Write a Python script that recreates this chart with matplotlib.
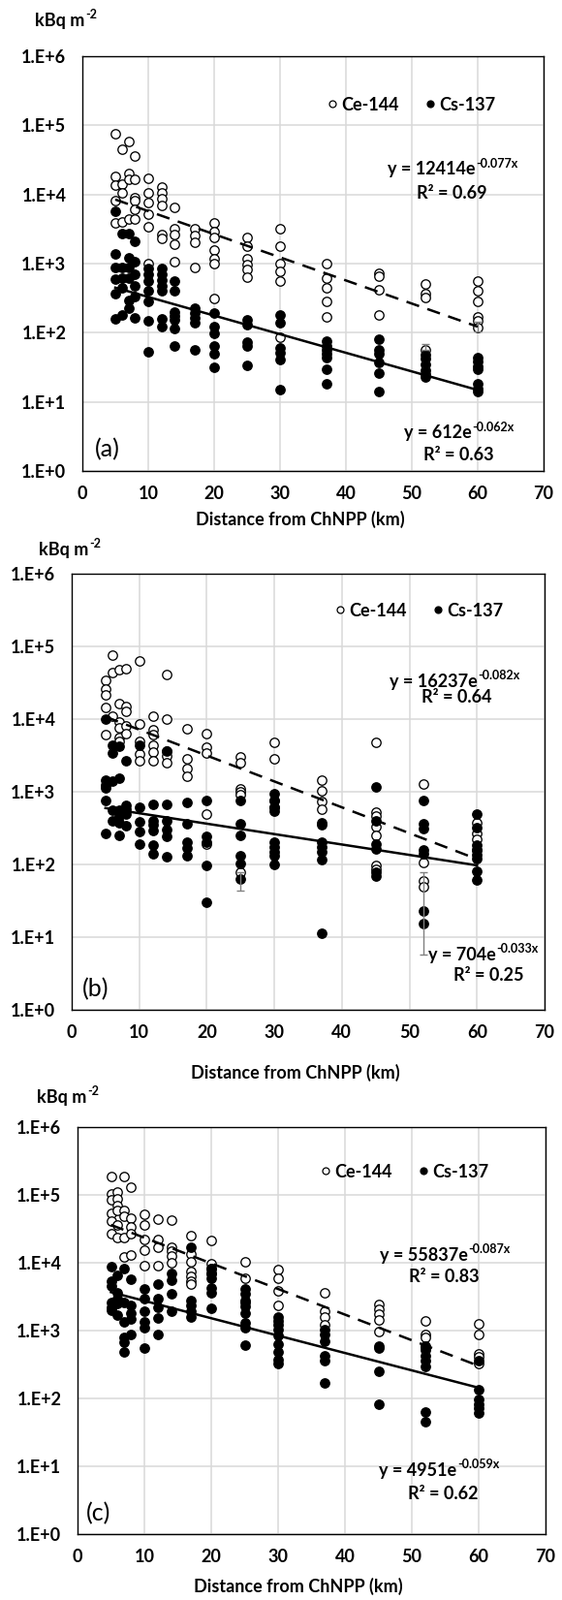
import matplotlib
matplotlib.use("Agg")
import matplotlib.pyplot as plt
from matplotlib.lines import Line2D
import numpy as np

# ---------------- data ----------------
DIST = [5, 6, 7, 8, 10, 12, 14, 17, 20, 25, 30, 37, 45, 52, 60]

A_CE = [[74800, 18500, 13700, 8070, 3880], [44700, 14100, 10500, 4000],
        [59000, 20000, 16600, 4400], [36000, 16600, 9000, 8100, 6100, 4400],
        [17100, 10400, 7700, 5250, 3380, 1000], [12900, 10500, 8700, 7000, 2660, 2300],
        [6600, 3150, 2600, 1920, 1050], [3200, 2580, 2040, 890],
        [3880, 2880, 2400, 1560, 1180, 1000, 316], [2400, 1790, 1170, 960, 820, 630],
        [3200, 1790, 1000, 770, 560, 87], [1000, 620, 450, 285, 172],
        [725, 650, 425, 182], [500, 365, 326, 57], [560, 405, 280, 172, 147, 120]]
A_CS = [[5630, 1390, 890, 590, 370, 157], [2700, 890, 620, 450, 180],
        [2700, 1230, 890, 620, 290, 230], [2070, 1070, 690, 480, 333, 165],
        [840, 700, 560, 400, 280, 147, 53], [850, 700, 580, 480, 400, 160, 124],
        [560, 400, 200, 175, 155, 115, 65], [225, 190, 165, 140, 57],
        [190, 124, 97, 65, 50, 32], [153, 131, 74, 65, 34],
        [180, 140, 60, 52, 41, 15], [75, 65, 56, 50, 43, 30, 18],
        [80, 56, 50, 37, 26, 14], [48, 42, 35, 29, 25, 23],
        [43, 38, 33, 30, 18, 15.5, 14]]

B_CE = [[34100, 25700, 21600, 14300, 6200], [75100, 43600, 10800],
        [47400, 16300, 9200, 7500, 5600, 5000], [49900, 15100, 12600, 8150, 6300],
        [62500, 8600, 5000, 3340, 2700], [11000, 7150, 6200, 4400, 3500, 2700],
        [40600, 10000, 3600, 3100, 2500], [7350, 2830, 2100, 1650],
        [6300, 4070, 3420, 500, 190], [3040, 2500, 1100, 1000, 910, 78],
        [4740, 2840, 770, 620], [1430, 1030, 725, 570],
        [4740, 525, 465, 330, 250, 98, 86], [1260, 107, 60, 49], [380, 270, 220, 160]]
B_CS = [[10000, 1430, 1230, 1120, 770, 265], [4300, 3400, 1390, 550, 400],
        [4170, 1520, 550, 465, 380, 250], [2700, 660, 570, 490, 340],
        [4400, 610, 390, 280, 190], [680, 400, 350, 290, 183, 140],
        [3600, 680, 400, 300, 245, 127], [710, 360, 200, 167, 131],
        [770, 240, 205, 97, 30], [760, 360, 250, 131, 103, 63],
        [950, 760, 620, 540, 205, 175, 150, 130, 100],
        [380, 350, 205, 175, 150, 117, 11.3], [1170, 400, 190, 162, 79, 69],
        [750, 360, 310, 160, 140, 23, 15.4], [495, 320, 185, 160, 135, 120, 81, 61]]

C_CE = [[186000, 102000, 85000, 53000, 41500, 27000],
        [112000, 87000, 70000, 59000, 36000, 23300],
        [186000, 59000, 49000, 23300, 12100], [131000, 45000, 34300, 26700, 12900],
        [52000, 36000, 21700, 15400, 9100], [43500, 21700, 16800, 9200],
        [42500, 17200, 15000, 12500, 10000], [25500, 13500, 10300, 7400, 6300, 5400, 4800],
        [21000, 9700, 8300, 7000], [10300, 6000, 2600], [8000, 6000, 3870, 2350],
        [3650, 1930, 1600, 1220], [2400, 2050, 1730, 1440, 980],
        [1390, 890, 785, 565], [1250, 890, 455, 410, 330]]
C_CS = [[8700, 5300, 4600, 2600, 2200, 2000], [6600, 3640, 2940, 2500, 1700],
        [8300, 2600, 1350, 790, 665, 490], [5640, 2350, 1780, 1500, 880],
        [4080, 3000, 1940, 1350, 1120, 555], [4900, 2950, 2220, 1520, 880],
        [7000, 5600, 3540, 1900], [16800, 2760, 2340, 1950, 1560],
        [8300, 7000, 6000, 4270, 3640, 2100],
        [4080, 3500, 2800, 2300, 1800, 1290, 1100, 615],
        [1600, 1400, 1220, 1020, 835, 630, 480, 370, 330],
        [1030, 870, 705, 430, 365, 170], [600, 550, 250, 83],
        [600, 510, 430, 365, 294, 63, 46], [365, 135, 98, 83, 71, 61]]

# trend lines (a, b, r2) for y = a*exp(b*x)
A_FIT_CE = (12414, -0.077, 0.69)
A_FIT_CS = (612, -0.062, 0.63)
B_FIT_CE = (16237, -0.082, 0.64)
B_FIT_CS = (704, -0.033, 0.25)
C_FIT_CE = (55837, -0.087, 0.83)
C_FIT_CS = (4951, -0.059, 0.62)
FIT_RANGE = (5, 60)

# error bars: (x, y, low, high)
A_ERR = [(60, 122, 105, 145), (52, 57, 57, 68)]
B_ERR = [(25, 78, 43, 78), (52, 78, 5.8, 78)]
C_ERR = []

YTICKS = [1, 10, 100, 1000, 10000, 100000, 1000000]
YTICK_LABELS = ["1.E+0", "1.E+1", "1.E+2", "1.E+3", "1.E+4", "1.E+5", "1.E+6"]
XTICKS = [0, 10, 20, 30, 40, 50, 60, 70]
LEGEND_LABELS = ["Ce-144", "Cs-137"]
PANEL_LABELS = ["(a)", "(b)", "(c)"]
XLABEL = "Distance from ChNPP (km)"
YLABEL_MAIN = "kBq m"
YLABEL_SUP = "-2"

# ---------------- style ----------------
plt.rcParams['font.family'] = ['Lato', 'DejaVu Sans']
plt.rcParams['font.weight'] = 'bold'

W, H = 580, 1651
fig = plt.figure(figsize=(W / 100, H / 100), dpi=100)
FS = 13
FS_SUP = 9

def fx(x):
    return x / W

def fy(y):
    return 1 - y / H

LAYOUT = [
    dict(box=(85, 58, 561, 486), ylab=(36, 21), xlab=(310, 536), leg=(0.535, 0.883),
         ce_eq=(56.2, 4.36), ce_r2=(56.0, 4.02), cs_eq=(57.1, 0.55), cs_r2=(57.1, 0.23),
         plab=(3.8, 0.32)),
    dict(box=(74, 592, 562, 1042), ylab=(40, 567), xlab=(305, 1107), leg=(0.561, 0.915),
         ce_eq=(56.7, 4.52), ce_r2=(57.0, 4.30), cs_eq=(60.9, 0.756), cs_r2=(61.7, 0.47),
         plab=(3.5, 0.29)),
    dict(box=(80, 1163, 563, 1583), ylab=(38, 1132), xlab=(308, 1637), leg=(0.522, 0.89),
         ce_eq=(54.9, 4.11), ce_r2=(54.8, 3.79), cs_eq=(54.05, 0.94), cs_r2=(54.7, 0.59),
         plab=(3.1, 0.30)),
]

PANELS = [
    (A_CE, A_CS, A_FIT_CE, A_FIT_CS, A_ERR),
    (B_CE, B_CS, B_FIT_CE, B_FIT_CS, B_ERR),
    (C_CE, C_CS, C_FIT_CE, C_FIT_CS, C_ERR),
]

renderer = fig.canvas.get_renderer()


def sup_text(ax_or_fig, x, y, main, sup, transform, ha='center'):
    """Draw main text with a small raised superscript, centred as a whole."""
    t1 = fig.text(0, 0, main, fontsize=FS, fontweight='bold', transform=transform,
                  va='center', ha='left')
    t2 = fig.text(0, 0, sup, fontsize=FS_SUP, fontweight='bold', transform=transform,
                  va='center', ha='left')
    w1 = t1.get_window_extent(renderer).width
    w2 = t2.get_window_extent(renderer).width
    # convert anchor to display coords
    X, Y = transform.transform((x, y))
    if ha == 'center':
        X0 = X - (w1 + w2) / 2
    else:
        X0 = X
    inv = fig.transFigure.inverted()
    p1 = inv.transform((X0, Y))
    p2 = inv.transform((X0 + w1 + 0.5, Y + 6))
    t1.set_transform(fig.transFigure)
    t2.set_transform(fig.transFigure)
    t1.set_position(p1)
    t2.set_position(p2)
    t1.set_zorder(7)
    t2.set_zorder(7)


def eq_parts(fit):
    a, b, _ = fit
    return "y = %de" % a, "%.3fx" % b


def fmt_r2(fit):
    return "R² = %.2f" % fit[2]


for i, (ce, cs, fce, fcs, errs) in enumerate(PANELS):
    L = LAYOUT[i]
    l, t, r, b = L['box']
    ax = fig.add_axes([fx(l), fy(b), fx(r - l), (b - t) / H])
    ax.set_yscale('log')
    ax.set_xlim(0, 70)
    ax.set_ylim(1, 1e6)
    ax.set_yticks(YTICKS)
    ax.set_yticklabels(YTICK_LABELS)
    ax.set_xticks(XTICKS)
    ax.minorticks_off()
    ax.tick_params(length=0, labelsize=FS, pad=11)
    ax.tick_params(axis='y', pad=12)
    for lab in ax.get_xticklabels() + ax.get_yticklabels():
        lab.set_fontweight('bold')
    ax.grid(True, color='#d9d9d9', linewidth=1.1)
    ax.set_axisbelow(True)
    for sp in ax.spines.values():
        sp.set_linewidth(1.0)
        sp.set_color('black')

    for d, vals in zip(DIST, ce):
        ax.plot([d] * len(vals), vals, ls='none', marker='o', ms=6.8, mfc='white',
                mec='black', mew=0.95, zorder=3)
    for d, vals in zip(DIST, cs):
        ax.plot([d] * len(vals), vals, ls='none', marker='o', ms=6.8, mfc='black',
                mec='black', mew=0.95, zorder=4)

    for (x, y, lo, hi) in errs:
        ax.errorbar([x], [y], yerr=[[y - lo], [hi - y]], fmt='none', ecolor='#808080',
                    elinewidth=1.0, capsize=3, capthick=1.0, zorder=5)

    xs = np.linspace(FIT_RANGE[0], FIT_RANGE[1], 50)
    ax.plot(xs, fce[0] * np.exp(fce[1] * xs), color='black', lw=1.8,
            dashes=(5.5, 3.6), zorder=6)
    ax.plot(xs, fcs[0] * np.exp(fcs[1] * xs), color='black', lw=1.8, zorder=6)

    handles = [Line2D([], [], ls='none', marker='o', ms=5.0, mfc='white', mec='black', mew=0.9),
               Line2D([], [], ls='none', marker='o', ms=5.0, mfc='black', mec='black', mew=0.9)]
    ax.legend(handles, LEGEND_LABELS, loc='center left', bbox_to_anchor=L['leg'], ncol=2,
              frameon=False, handlelength=0.4, handletextpad=0.3, columnspacing=1.6,
              borderpad=0, borderaxespad=0, prop=dict(size=FS, weight='bold'))

    m, s = eq_parts(fce)
    sup_text(ax, L['ce_eq'][0], 10 ** L['ce_eq'][1], m, s, ax.transData)
    ax.text(L['ce_r2'][0], 10 ** L['ce_r2'][1], fmt_r2(fce), ha='center', va='center',
            fontsize=FS, fontweight='bold', zorder=7)
    m, s = eq_parts(fcs)
    sup_text(ax, L['cs_eq'][0], 10 ** L['cs_eq'][1], m, s, ax.transData)
    ax.text(L['cs_r2'][0], 10 ** L['cs_r2'][1], fmt_r2(fcs), ha='center', va='center',
            fontsize=FS, fontweight='bold', zorder=7)
    ax.text(L['plab'][0], 10 ** L['plab'][1], PANEL_LABELS[i], ha='center', va='center',
            fontsize=18, fontweight='normal', zorder=7)

    sup_text(fig, fx(L['ylab'][0]), fy(L['ylab'][1]), YLABEL_MAIN, YLABEL_SUP,
             fig.transFigure, ha='left')
    fig.text(fx(L['xlab'][0]), fy(L['xlab'][1]), XLABEL, ha='center', va='center',
             fontsize=FS, fontweight='bold')

fig.savefig("out.png", dpi=100, facecolor='white')
